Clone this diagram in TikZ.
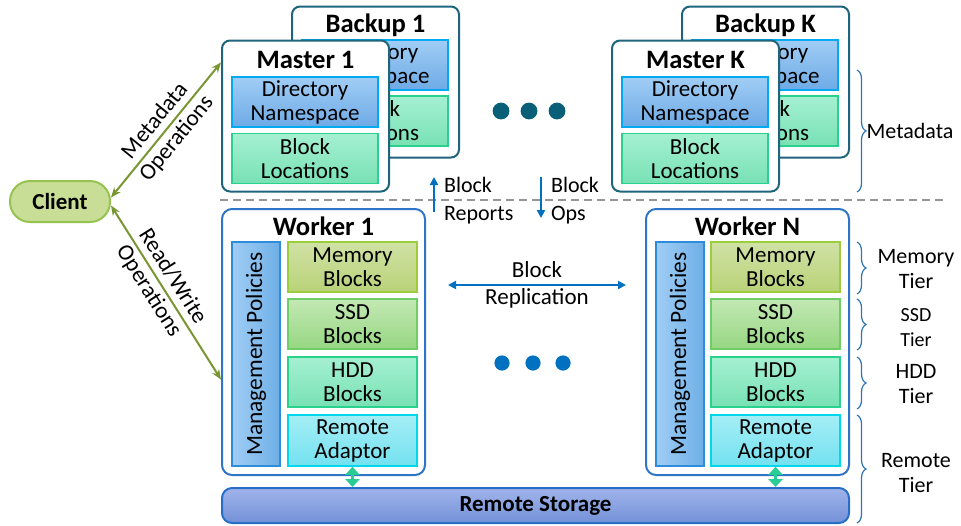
\documentclass[tikz,border=0pt]{standalone}
\usepackage{fontspec}
\setmainfont{Carlito}
\usetikzlibrary{positioning,arrows.meta,calc,decorations.pathreplacing}

\definecolor{mastline}{RGB}{31,100,125}
\definecolor{workline}{RGB}{46,117,200}
\definecolor{dirtop}{RGB}{160,205,245}
\definecolor{dirbot}{RGB}{110,170,230}
\definecolor{dirline}{RGB}{0,170,240}
\definecolor{loctop}{RGB}{165,240,210}
\definecolor{locbot}{RGB}{120,225,180}
\definecolor{locline}{RGB}{40,210,140}
\definecolor{memtop}{RGB}{208,226,165}
\definecolor{membot}{RGB}{185,210,120}
\definecolor{memline}{RGB}{155,205,60}
\definecolor{ssdtop}{RGB}{195,232,180}
\definecolor{ssdbot}{RGB}{150,215,130}
\definecolor{ssdline}{RGB}{110,205,100}
\definecolor{remtop}{RGB}{165,238,245}
\definecolor{rembot}{RGB}{115,225,240}
\definecolor{remline}{RGB}{0,215,235}
\definecolor{polleft}{RGB}{160,205,245}
\definecolor{polright}{RGB}{110,175,230}
\definecolor{polline}{RGB}{46,140,220}
\definecolor{stortop}{RGB}{160,180,235}
\definecolor{storbot}{RGB}{115,145,215}
\definecolor{storline}{RGB}{40,110,200}
\definecolor{clientfill}{RGB}{200,222,150}
\definecolor{clientline}{RGB}{150,195,80}
\definecolor{opsgreen}{RGB}{120,150,50}
\definecolor{blkblue}{RGB}{0,112,192}
\definecolor{adaptgreen}{RGB}{40,205,150}
\definecolor{dotteal}{RGB}{10,95,120}
\definecolor{bracecol}{RGB}{46,117,182}
\definecolor{dashgray}{RGB}{150,150,150}

\begin{document}
\begin{tikzpicture}[
    x=0.5pt, y=-0.5pt,
    every node/.style={font=\fontsize{11.5}{12}\selectfont},
    title/.style={font=\fontsize{13.3}{14}\selectfont\bfseries},
    server/.style={draw=mastline, line width=1pt, rounded corners=4pt, fill=white,
                   minimum width=83.5pt, minimum height=75.5pt, inner sep=0pt},
    worker/.style={draw=workline, line width=1pt, rounded corners=5pt, fill=white,
                   minimum width=101.5pt, minimum height=133pt, inner sep=0pt},
    cell/.style={line width=0.75pt, minimum width=73pt, minimum height=25pt,
                 align=center, inner sep=0pt},
    dirbox/.style={cell, top color=dirtop, bottom color=dirbot, draw=dirline},
    locbox/.style={cell, top color=loctop, bottom color=locbot, draw=locline},
    tierbox/.style={line width=0.75pt, minimum width=64.5pt, minimum height=25pt,
                    align=center, inner sep=0pt},
    membox/.style={tierbox, top color=memtop, bottom color=membot, draw=memline},
    ssdbox/.style={tierbox, top color=ssdtop, bottom color=ssdbot, draw=ssdline},
    hddbox/.style={tierbox, top color=loctop, bottom color=locbot, draw=locline},
    rembox/.style={tierbox, minimum height=25.5pt, top color=remtop, bottom color=rembot, draw=remline},
    policy/.style={line width=0.75pt, minimum width=24pt, minimum height=112pt, inner sep=0pt,
                   left color=polleft, right color=polright, draw=polline},
    opsarrow/.style={{Stealth[length=5pt,width=4pt]}-{Stealth[length=5pt,width=4pt]},
                     line width=1pt, opsgreen},
    blk/.style={-{Triangle[length=4pt,width=4pt]}, line width=1pt, blkblue},
    adapt/.style={{Triangle[length=4pt,width=7pt]}-{Triangle[length=4pt,width=7pt]},
                  line width=1.2pt, adaptgreen},
    brace/.style={decorate, decoration={brace, amplitude=4.5pt}, bracecol, line width=0.6pt},
    oplabel/.style={align=center, text=black, font=\fontsize{11.5}{14}\selectfont},
    side/.style={align=center, font=\fontsize{11}{12.8}\selectfont},
]
\useasboundingbox (0,0) rectangle (961,525);

% Metadata: backups behind masters
\node[server] (backup1) at (375.5,82) {};
\node[title] (backup1t) at (375.5,25) {Backup 1};
\node[dirbox] (backup1dir) at (375,65) {Directory\\Namespace};
\node[locbox] (backup1loc) at (375,121) {Block\\Locations};
\node[server] (master1) at (305.5,116) {};
\node[title] (master1t) at (305.5,60) {Master 1};
\node[dirbox] (master1dir) at (305,102) {Directory\\Namespace};
\node[locbox] (master1loc) at (305,158.5) {Block\\Locations};

\node[server] (backupk) at (765.5,82) {};
\node[title] (backupkt) at (765.5,25) {Backup K};
\node[dirbox] (backupkdir) at (765,65) {Directory\\Namespace};
\node[locbox] (backupkloc) at (765,121) {Block\\Locations};
\node[server] (masterk) at (695.5,116) {};
\node[title] (masterkt) at (695.5,60) {Master K};
\node[dirbox] (masterkdir) at (695,102) {Directory\\Namespace};
\node[locbox] (masterkloc) at (695,158.5) {Block\\Locations};

\foreach \x in {501,529,557} {
    \fill[dotteal] (\x,111) circle (4.2pt);
}

% Divider
\draw[dashgray, line width=1pt, dash pattern=on 4pt off 2.5pt] (220,200) -- (945,200);

% Block reports / ops
\coordinate (repbot) at (434,212);
\coordinate (reptop) at (434,177);
\draw[blk] (repbot) -- (reptop);
\node[anchor=west, align=left, font=\fontsize{11}{14}\selectfont] (replab) at (437,201) {Block\\Reports};
\coordinate (opstop) at (541,177);
\coordinate (opsbot) at (541,218);
\draw[blk] (opstop) -- (opsbot);
\node[anchor=west, align=left, font=\fontsize{11}{14}\selectfont] (opslab) at (544,201) {Block\\Ops};

% Workers
\node[worker] (worker1) at (323.5,342) {};
\node[title] (worker1t) at (323.5,226) {Worker 1};
\node[policy] (pol1) at (256,354) {\rotatebox{90}{\fontsize{11.7}{12}\selectfont Management\ Policies}};
\node[membox] (mem1) at (352.5,267) {Memory\\Blocks};
\node[ssdbox] (ssd1) at (352.5,324) {SSD\\Blocks};
\node[hddbox] (hdd1) at (352.5,382) {HDD\\Blocks};
\node[rembox] (rem1) at (352.5,440.5) {Remote\\Adaptor};

\node[worker] (workern) at (747.5,342) {};
\node[title] (workernt) at (747.5,226) {Worker N};
\node[policy] (poln) at (680,354) {\rotatebox{90}{\fontsize{11.7}{12}\selectfont Management\ Policies}};
\node[membox] (memn) at (775.5,267) {Memory\\Blocks};
\node[ssdbox] (ssdn) at (775.5,324) {SSD\\Blocks};
\node[hddbox] (hddn) at (775.5,382) {HDD\\Blocks};
\node[rembox] (remn) at (775.5,440.5) {Remote\\Adaptor};

\coordinate (repl1) at (448,285);
\coordinate (repln) at (626,285);
\draw[blk, {Triangle[length=4pt,width=4pt]}-{Triangle[length=4pt,width=4pt]}] (repl1) --
    node[midway, oplabel, font=\fontsize{11.5}{13.5}\selectfont] {Block\\Replication} (repln);

\foreach \x in {502,533,563} {
    \fill[blkblue] (\x,363) circle (3.8pt);
}

% Remote storage
\node[draw=storline, line width=1pt, rounded corners=5pt, top color=stortop, bottom color=storbot,
      minimum width=313.5pt, minimum height=17.5pt, title, font=\fontsize{11.5}{12}\selectfont\bfseries]
      (storage) at (535.5,505.5) {Remote Storage};
\draw[adapt] (rem1.south) -- (rem1.south |- storage.north);
\draw[adapt] (remn.south) -- (remn.south |- storage.north);

% Client
\node[draw=clientline, line width=1pt, fill=clientfill, rounded corners=10pt,
      minimum width=50pt, minimum height=20.5pt, font=\fontsize{11.5}{12}\selectfont\bfseries]
      (client) at (60,201.5) {Client};
\coordinate (metain) at ($(master1.north west)!0.15!(master1.south west)$);
\coordinate (rwin) at ($(worker1.north west)!0.64!(worker1.south west)$);
\draw[opsarrow] ([yshift=2pt]client.east) --
    node[midway, sloped, oplabel] {Metadata\\Operations} (metain);
\draw[opsarrow] ([yshift=-2pt]client.east) --
    node[pos=0.45, sloped, oplabel] {Read/Write\\Operations} (rwin);

% Braces
\draw[brace] (857,70) -- (857,192);
\node[side] (metalab) at (910,131) {Metadata};
\draw[brace] (857,242) -- (857,294);
\node[side] (memlab) at (916,269) {Memory\\Tier};
\draw[brace] (857,299) -- (857,350);
\node[side, font=\fontsize{10}{12.5}\selectfont] (ssdlab) at (916,328) {SSD\\Tier};
\draw[brace] (857,357) -- (857,409);
\node[side] (hddlab) at (916,384) {HDD\\Tier};
\draw[brace] (857,415) -- (857,523);
\node[side] (remlab) at (916,473) {Remote\\Tier};
\end{tikzpicture}
\end{document}
